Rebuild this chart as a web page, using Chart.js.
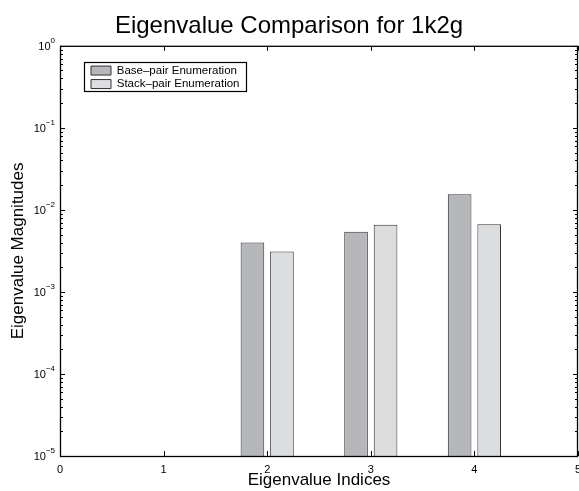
<!DOCTYPE html>
<html>
<head>
<meta charset="utf-8">
<script src="https://cdn.jsdelivr.net/npm/chart.js@4"></script>
<style>
  html, body { margin: 0; padding: 0; background: #fff; }
</style>
</head>
<body>
<canvas id="eig" width="579" height="491"></canvas>
<script>
// values
const indices = [2, 3, 4];
const basePair = [0.0040, 0.0054, 0.0155];
const stackPair = [0.0031, 0.0066, 0.0067];
const xTicks = [0, 1, 2, 3, 4, 5];
const yDecades = [0, -1, -2, -3, -4, -5];

const FONT = "'Liberation Sans', Arial, sans-serif";

// MATLAB-ish box with inward ticks, superscript y labels and a boxed legend
const matlabAxes = {
    id: 'matlabAxes',
    afterLayout(chart) {
        const a = chart.chartArea, lg = chart.legend;
        lg.left = a.left + 29;
        lg.top = a.top + 17;
        lg.right = a.right;
        lg.bottom = a.bottom;
        lg.width = lg.right - lg.left;
        lg.height = lg.bottom - lg.top;
    },
    afterDraw(chart) {
        const ctx = chart.ctx, a = chart.chartArea;
        const xs = chart.scales.x, ys = chart.scales.y;
        ctx.save();
        ctx.strokeStyle = '#000';
        ctx.lineWidth = 1.3;
        ctx.strokeRect(a.left + 0.5, a.top + 0.5, a.right - a.left - 1, a.bottom - a.top);

        ctx.lineWidth = 1;
        ctx.beginPath();
        xTicks.forEach(v => {
            const px = Math.round(xs.getPixelForValue(v)) + 0.5;
            ctx.moveTo(px, a.bottom); ctx.lineTo(px, a.bottom - 5);
            ctx.moveTo(px, a.top); ctx.lineTo(px, a.top + 5);
        });
        yDecades.forEach(k => {
            const py = Math.round(ys.getPixelForValue(Math.pow(10, k))) + 0.5;
            ctx.moveTo(a.left, py); ctx.lineTo(a.left + 5, py);
            ctx.moveTo(a.right, py); ctx.lineTo(a.right - 5, py);
            if (k < 0) {
                for (let m = 2; m <= 9; m++) {
                    const my = Math.round(ys.getPixelForValue(m * Math.pow(10, k))) + 0.5;
                    ctx.moveTo(a.left, my); ctx.lineTo(a.left + 3, my);
                    ctx.moveTo(a.right, my); ctx.lineTo(a.right - 3, my);
                }
            }
        });
        ctx.stroke();

        // y tick labels as 10 with a raised exponent
        ctx.fillStyle = '#000';
        ctx.textBaseline = 'middle';
        yDecades.forEach(k => {
            const py = ys.getPixelForValue(Math.pow(10, k));
            const exp = k === 0 ? '0' : '\u2212' + (-k);
            ctx.font = '8px ' + FONT;
            const ew = ctx.measureText(exp).width;
            const x0 = a.left - 5 - ew;
            ctx.textAlign = 'left';
            ctx.fillText(exp, x0, py - 5);
            ctx.font = '11px ' + FONT;
            ctx.textAlign = 'right';
            ctx.fillText('10', x0, py + 1);
        });

        // legend frame
        const hb = chart.legend.legendHitBoxes;
        if (hb && hb.length) {
            const l = Math.min(...hb.map(h => h.left)) - 7.5;
            const r = Math.max(...hb.map(h => h.left + h.width)) + 6;
            const t = hb[0].top - 2.5;
            const b = hb[hb.length - 1].top + hb[hb.length - 1].height + 1.5;
            ctx.lineWidth = 1.2;
            ctx.strokeRect(Math.round(l) + 0.5, Math.round(t) + 0.5, Math.round(r - l), Math.round(b - t));
        }
        ctx.restore();
    }
};

new Chart(document.getElementById('eig'), {
    type: 'bar',
    data: {
        datasets: [{
            label: 'Base\u2013pair Enumeration',
            data: indices.map((x, i) => ({x: x, y: basePair[i]})),
            backgroundColor: '#b6b7bb',
            borderColor: '#333333',
            borderWidth: 1
        }, {
            label: 'Stack\u2013pair Enumeration',
            data: indices.map((x, i) => ({x: x, y: stackPair[i]})),
            backgroundColor: '#dcdddf',
            borderColor: '#333333',
            borderWidth: 1
        }]
    },
    options: {
        responsive: false,
        devicePixelRatio: 1,
        animation: false,
        categoryPercentage: 0.57,
        barPercentage: 0.8,
        layout: {padding: {left: 0, right: 1, top: 0, bottom: 0}},
        scales: {
            x: {
                type: 'linear',
                offset: false,
                min: 0,
                max: 5,
                grid: {display: false, drawTicks: false, offset: false},
                border: {display: false},
                ticks: {stepSize: 1, padding: 7, color: '#000', font: {family: FONT, size: 11}},
                title: {
                    display: true,
                    text: 'Eigenvalue Indices',
                    color: '#000',
                    font: {family: FONT, size: 17},
                    padding: {top: 0, bottom: 0}
                },
                afterFit(scale) {
                    scale.height = 35;
                    scale.paddingLeft = 0;
                    scale.paddingRight = 0;
                }
            },
            y: {
                type: 'logarithmic',
                min: 1e-5,
                max: 1,
                grid: {display: false, drawTicks: false},
                border: {display: false},
                ticks: {display: false},
                title: {
                    display: true,
                    text: 'Eigenvalue Magnitudes',
                    color: '#000',
                    font: {family: FONT, size: 17},
                    padding: {top: 8, bottom: 0}
                },
                afterFit(scale) {
                    scale.width = 60;
                    scale.paddingTop = 0;
                    scale.paddingBottom = 0;
                }
            }
        },
        plugins: {
            title: {
                display: true,
                text: 'Eigenvalue Comparison for 1k2g',
                color: '#000',
                font: {family: FONT, size: 24, weight: 'normal'},
                padding: {top: 12, bottom: 5}
            },
            legend: {
                position: 'chartArea',
                align: 'start',
                labels: {
                    boxWidth: 20,
                    boxHeight: 9,
                    padding: 2,
                    color: '#000',
                    font: {family: FONT, size: 11.5}
                }
            },
            tooltip: {enabled: false}
        }
    },
    plugins: [matlabAxes]
});
</script>
</body>
</html>
